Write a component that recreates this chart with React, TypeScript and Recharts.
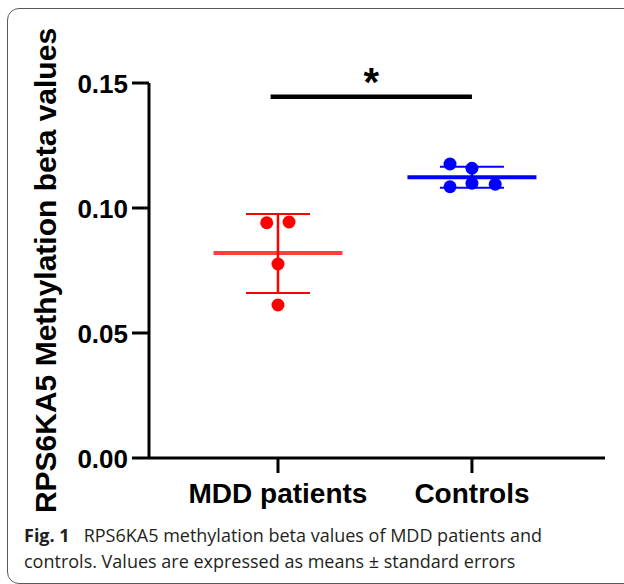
import React from 'react';
import { ScatterChart, Scatter, XAxis, YAxis, ReferenceLine } from 'recharts';

const categories = ['MDD patients', 'Controls'];
const mddValues = [0.0941, 0.0944, 0.0776, 0.0612];
const mddOffsets = [-0.058, 0.057, 0, 0];
const controlValues = [0.1176, 0.1159, 0.1085, 0.1099, 0.1095];
const controlOffsets = [-0.113, 0, -0.113, 0, 0.12];
const groupMeans = [0.082, 0.1123];
const groupUpper = [0.0976, 0.1165];
const groupLower = [0.066, 0.1081];
const yTicks = [0, 0.05, 0.1, 0.15];
const xTicks = [1, 2];
const sigStart = 0.962;
const sigEnd = 2.0;
const sigLevel = 0.1445;
const sigLabel = '*';

const mddData = mddValues.map((y, i) => ({ x: 1 + mddOffsets[i], y }));
const controlData = controlValues.map((y, i) => ({ x: 2 + controlOffsets[i], y }));

const groupColors = ['#ff0000', '#0000ff'];
const meanColors = ['#ff4040', '#0000ff'];
const FONT = '"Liberation Sans", Arial, sans-serif';
const MEAN_HALF = 0.3325;
const CAP_HALF = 0.165;

const dot = (color: string) => (props: any) => (
  <circle cx={props.cx} cy={props.cy} r={6.5} fill={color} />
);

const YLabel = (props: any) => {
  const vb = props.viewBox || {};
  const cy = vb.y + vb.height / 2;
  const x = 56;
  return (
    <text
      x={x}
      y={cy}
      transform={`rotate(-90, ${x}, ${cy})`}
      textAnchor="middle"
      fontFamily={FONT}
      fontWeight="bold"
      fontSize={30}
      fill="#000"
    >
      RPS6KA5 Methylation beta values
    </text>
  );
};

export default function App() {
  const lines: React.ReactNode[] = [];
  groupMeans.forEach((m, i) => {
    const cx = xTicks[i];
    lines.push(
      <ReferenceLine key={`m${i}`} segment={[{ x: cx - MEAN_HALF, y: m }, { x: cx + MEAN_HALF, y: m }]} stroke={meanColors[i]} strokeWidth={4} />,
      <ReferenceLine key={`v${i}`} segment={[{ x: cx, y: groupLower[i] }, { x: cx, y: groupUpper[i] }]} stroke={groupColors[i]} strokeWidth={2.5} />,
      <ReferenceLine key={`u${i}`} segment={[{ x: cx - CAP_HALF, y: groupUpper[i] }, { x: cx + CAP_HALF, y: groupUpper[i] }]} stroke={groupColors[i]} strokeWidth={2} />,
      <ReferenceLine key={`l${i}`} segment={[{ x: cx - CAP_HALF, y: groupLower[i] }, { x: cx + CAP_HALF, y: groupLower[i] }]} stroke={groupColors[i]} strokeWidth={2} />
    );
  });

  return (
    <div style={{ position: 'absolute', left: 0, top: 0, width: 624, height: 584, background: '#fff', overflow: 'hidden' }}>
      <div
        style={{
          position: 'absolute',
          left: 7,
          top: 8,
          width: 630,
          height: 576,
          border: '1.5px solid #5a5a5a',
          borderRadius: 12,
          boxSizing: 'border-box',
        }}
      />
      <div style={{ position: 'absolute', left: 0, top: 0 }}>
        <ScatterChart width={624} height={584} margin={{ top: 83, right: 19, bottom: 86, left: 59 }}>
          <XAxis
            type="number"
            dataKey="x"
            domain={[0.335, 2.686]}
            ticks={xTicks}
            interval={0}
            allowDataOverflow
            tickFormatter={(v: number) => categories[v - 1]}
            axisLine={{ stroke: '#000', strokeWidth: 3 }}
            tickLine={{ stroke: '#000', strokeWidth: 3 }}
            tickSize={15}
            tickMargin={10}
            height={40}
            tick={{ fill: '#000', fontSize: 28, fontWeight: 'bold', fontFamily: FONT }}
          />
          <YAxis
            type="number"
            dataKey="y"
            domain={[0, 0.15]}
            ticks={yTicks}
            interval={0}
            allowDataOverflow
            tickFormatter={(v: number) => v.toFixed(2)}
            axisLine={{ stroke: '#000', strokeWidth: 3 }}
            tickLine={{ stroke: '#000', strokeWidth: 3 }}
            tickSize={17}
            tickMargin={4}
            width={90}
            tick={{ fill: '#000', fontSize: 26, fontWeight: 'bold', fontFamily: FONT, dy: 1 }}
            label={{ content: YLabel }}
          />
          {lines}
          <ReferenceLine
            segment={[{ x: sigStart, y: sigLevel }, { x: sigEnd, y: sigLevel }]}
            stroke="#000"
            strokeWidth={4.5}
            label={{ value: sigLabel, position: 'top', offset: 1, fill: '#000', fontSize: 40, fontWeight: 'bold', fontFamily: FONT }}
          />
          <Scatter data={mddData} isAnimationActive={false} shape={dot(groupColors[0])} />
          <Scatter data={controlData} isAnimationActive={false} shape={dot(groupColors[1])} />
        </ScatterChart>
      </div>
      <div
        style={{
          position: 'absolute',
          left: 24,
          top: 523,
          fontFamily: '"Open Sans", sans-serif',
          fontSize: 18,
          lineHeight: '25.5px',
          color: '#231f20',
          whiteSpace: 'nowrap',
        }}
      >
        <div>
          <b style={{ marginRight: 14 }}>Fig. 1</b>RPS6KA5 methylation beta values of MDD patients and
        </div>
        <div>controls. Values are expressed as means ± standard errors</div>
      </div>
    </div>
  );
}
